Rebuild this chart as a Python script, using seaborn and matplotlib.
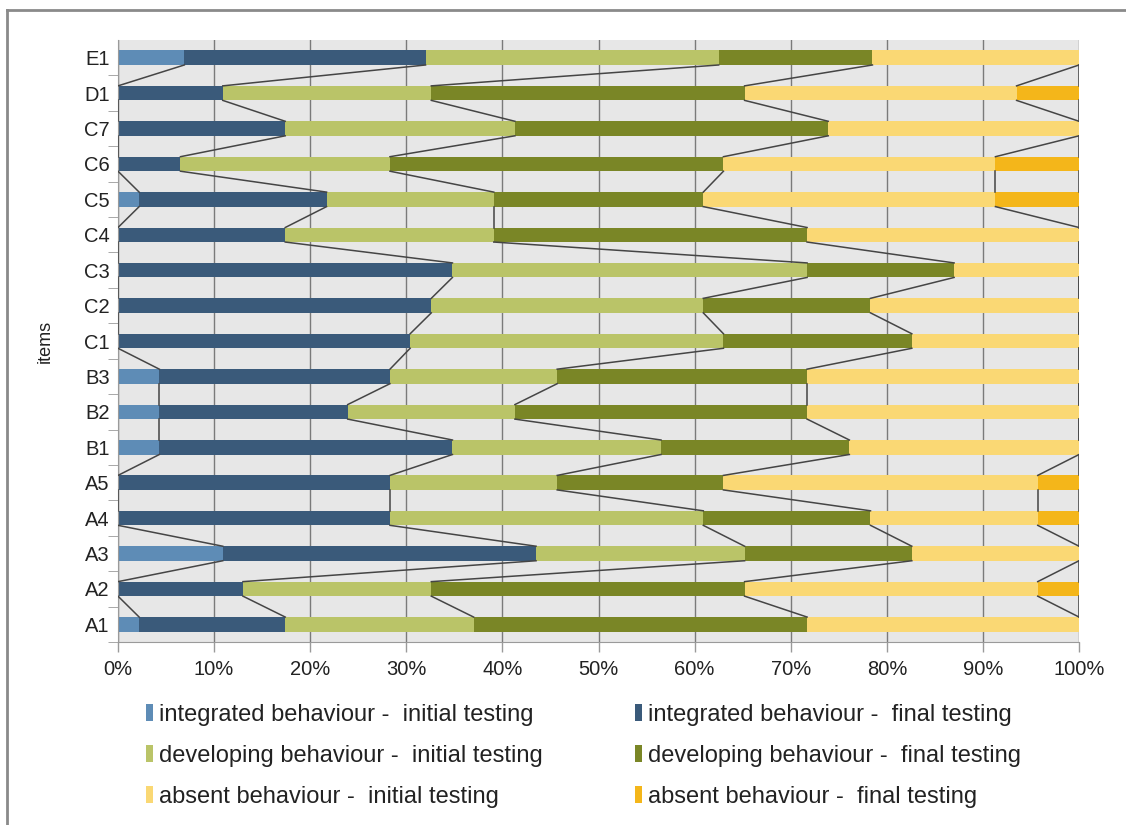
import seaborn as sns
import pandas as pd
import numpy as np
import matplotlib.pyplot as plt
from matplotlib.patches import Patch

# items, top to bottom
items = ['E1', 'D1', 'C7', 'C6', 'C5', 'C4', 'C3', 'C2', 'C1',
         'B3', 'B2', 'B1', 'A5', 'A4', 'A3', 'A2', 'A1']

# shares in % per item
integrated_initial = [6.9, 0, 0, 0, 2.2, 0, 0, 0, 0, 4.3, 4.3, 4.3, 0, 0, 10.9, 0, 2.2]
integrated_final = [25.1, 10.9, 17.4, 6.5, 19.5, 17.4, 34.8, 32.6, 30.4,
                    24.0, 19.6, 30.5, 28.3, 28.3, 32.6, 13.0, 15.2]
developing_initial = [30.5, 21.7, 23.9, 21.8, 17.4, 21.7, 36.9, 28.3, 32.6,
                      17.4, 17.4, 21.7, 17.4, 32.6, 21.7, 19.6, 19.6]
developing_final = [16.0, 32.6, 32.6, 34.7, 21.8, 32.6, 15.3, 17.4, 19.6,
                    26.0, 30.4, 19.6, 17.3, 17.4, 17.4, 32.6, 34.7]
absent_initial = [21.5, 28.3, 26.1, 28.3, 30.4, 28.3, 13.0, 21.7, 17.4,
                  28.3, 28.3, 23.9, 32.7, 17.4, 17.4, 30.5, 28.3]
absent_final = [0, 6.5, 0, 8.7, 8.7, 0, 0, 0, 0, 0, 0, 0, 4.3, 4.3, 0, 4.3, 0]

series = ['integrated behaviour -  initial testing',
          'integrated behaviour -  final testing',
          'developing behaviour -  initial testing',
          'developing behaviour -  final testing',
          'absent behaviour -  initial testing',
          'absent behaviour -  final testing']
colors = ['#5E8CB6', '#3A5A7A', '#BAC468', '#7A8626', '#FAD874', '#F4B61A']

df = pd.DataFrame(dict(zip(series, [integrated_initial, integrated_final,
                                    developing_initial, developing_final,
                                    absent_initial, absent_final])), index=items)
cum = df.cumsum(axis=1)

plt.rcParams['font.family'] = ['Liberation Sans', 'DejaVu Sans']
fig = plt.figure(figsize=(11.26, 8.25), dpi=100)
ax = fig.add_axes([0.1048, 0.2218, 0.8535, 0.7297])
ax.set_facecolor('#E7E7E7')

h = 0.41
# stacked bars: draw cumulative totals, widest first
for col, c in reversed(list(zip(series, colors))):
    sns.barplot(x=cum[col].values, y=items, orient='h', color=c, width=h,
                saturation=1, errorbar=None, linewidth=0, ax=ax, zorder=2)

# series lines between neighbouring bars
for i in range(len(items) - 1):
    for col in series:
        ax.plot([cum[col].iloc[i], cum[col].iloc[i + 1]], [i + h / 2, i + 1 - h / 2],
                color='#454545', lw=1.1, zorder=3)

ax.set_xlim(0, 100)
ax.set_ylim(len(items) - 0.5, -0.5)
ax.set_xticks(np.arange(0, 101, 10))
ax.set_xticklabels([f'{v}%' for v in range(0, 101, 10)])
ax.grid(axis='x', color='#7A7A7A', lw=1, zorder=1)
ax.set_axisbelow(True)
ax.tick_params(axis='both', labelsize=14.5, colors='#222222', length=7,
               width=1, direction='out', pad=6)
ax.tick_params(axis='both', color='#9A9A9A')
ax.set_yticks(np.arange(len(items)) + 0.5, minor=True)
ax.set_yticks(np.arange(len(items)))
ax.tick_params(axis='y', which='major', length=0)
ax.tick_params(axis='y', which='minor', length=7, color='#9A9A9A')
ax.set_xticks(np.arange(5, 100, 10), minor=True)
ax.tick_params(axis='x', which='minor', length=0)
ax.set_xlabel('')
ax.set_ylabel('items', fontsize=13, color='#222222', labelpad=22)
for s in ['top', 'right']:
    ax.spines[s].set_visible(False)
for s in ['left', 'bottom']:
    ax.spines[s].set_color('#9A9A9A')

handles = [Patch(facecolor=c, label=s) for s, c in zip(series, colors)]
order = [0, 2, 4, 1, 3, 5]
fig.legend([handles[k] for k in order], [series[k] for k in order],
           ncol=2, loc='upper left', bbox_to_anchor=(0.13, 0.147),
           frameon=False, fontsize=17, handlelength=0.3, handleheight=0.75,
           handletextpad=0.25, labelspacing=0.8, columnspacing=3.9,
           borderaxespad=0, borderpad=0, labelcolor='#222222')

# frame lines of the original picture
fig.add_artist(plt.Line2D([0.0062, 0.0062], [0, 0.988], color='#8A8A8A', lw=2,
                          transform=fig.transFigure))
fig.add_artist(plt.Line2D([0.0062, 1], [0.988, 0.988], color='#8A8A8A', lw=2,
                          transform=fig.transFigure))

fig.savefig('out.png', dpi=100)
